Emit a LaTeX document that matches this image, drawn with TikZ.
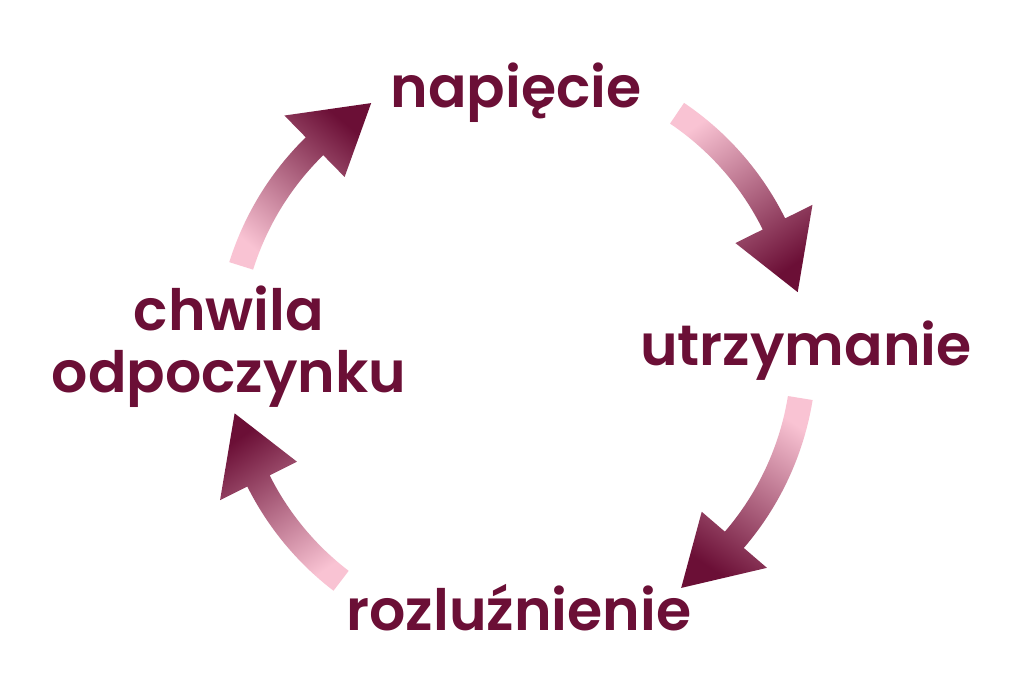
\documentclass[tikz,border=0pt]{standalone}
\usepackage{fontspec}
\newfontfamily\labelfont{Poppins SemiBold}
\usetikzlibrary{positioning}
\definecolor{maroon}{HTML}{6B0F36}
\definecolor{blush}{HTML}{F9C3D3}
% tail angle, head base angle, tip angle, shading angle
\newcommand{\cyclearrow}[4]{\shade[shift = {(C)}, bottom color = blush,
  top color = maroon, shading angle = #4]
  (#1:3.005) arc[start angle = #1, end angle = #2, radius = 3.005]
  -- (#2:3.31) -- (#3:2.88) -- (#2:2.45) -- (#2:2.755)
  arc[start angle = #2, end angle = #1, radius = 2.755] -- cycle;}

\begin{document}
\begin{tikzpicture}[phase/.style = {
      font = {\labelfont\fontsize{16.2}{17.6}\selectfont},
      text = maroon, inner sep = 0pt, anchor = base, align = center,
    }]
    \useasboundingbox [fill = white] (0,0) rectangle (10.24,6.83);
    \coordinate (C) at (5.16,3.31);
    \cyclearrow{56}{26.4}{12}{-145.5}
    \cyclearrow{-9.2}{-40.7}{-55}{145.9}
    \cyclearrow{-127.4}{-153.4}{-167.7}{34.1}
    \cyclearrow{162.6}{134.4}{120.2}{-40}
    \node [phase] (Tension) at (5.16,5.76) {napięcie};
    \node [phase] (Hold) at (8.06,3.18) {utrzymanie};
    \node [phase] (Release) at (5.19,0.53) {rozluźnienie};
    \node [phase] (Rest) at (2.29,2.91) {chwila\\odpoczynku};
  \end{tikzpicture}
\end{document}
